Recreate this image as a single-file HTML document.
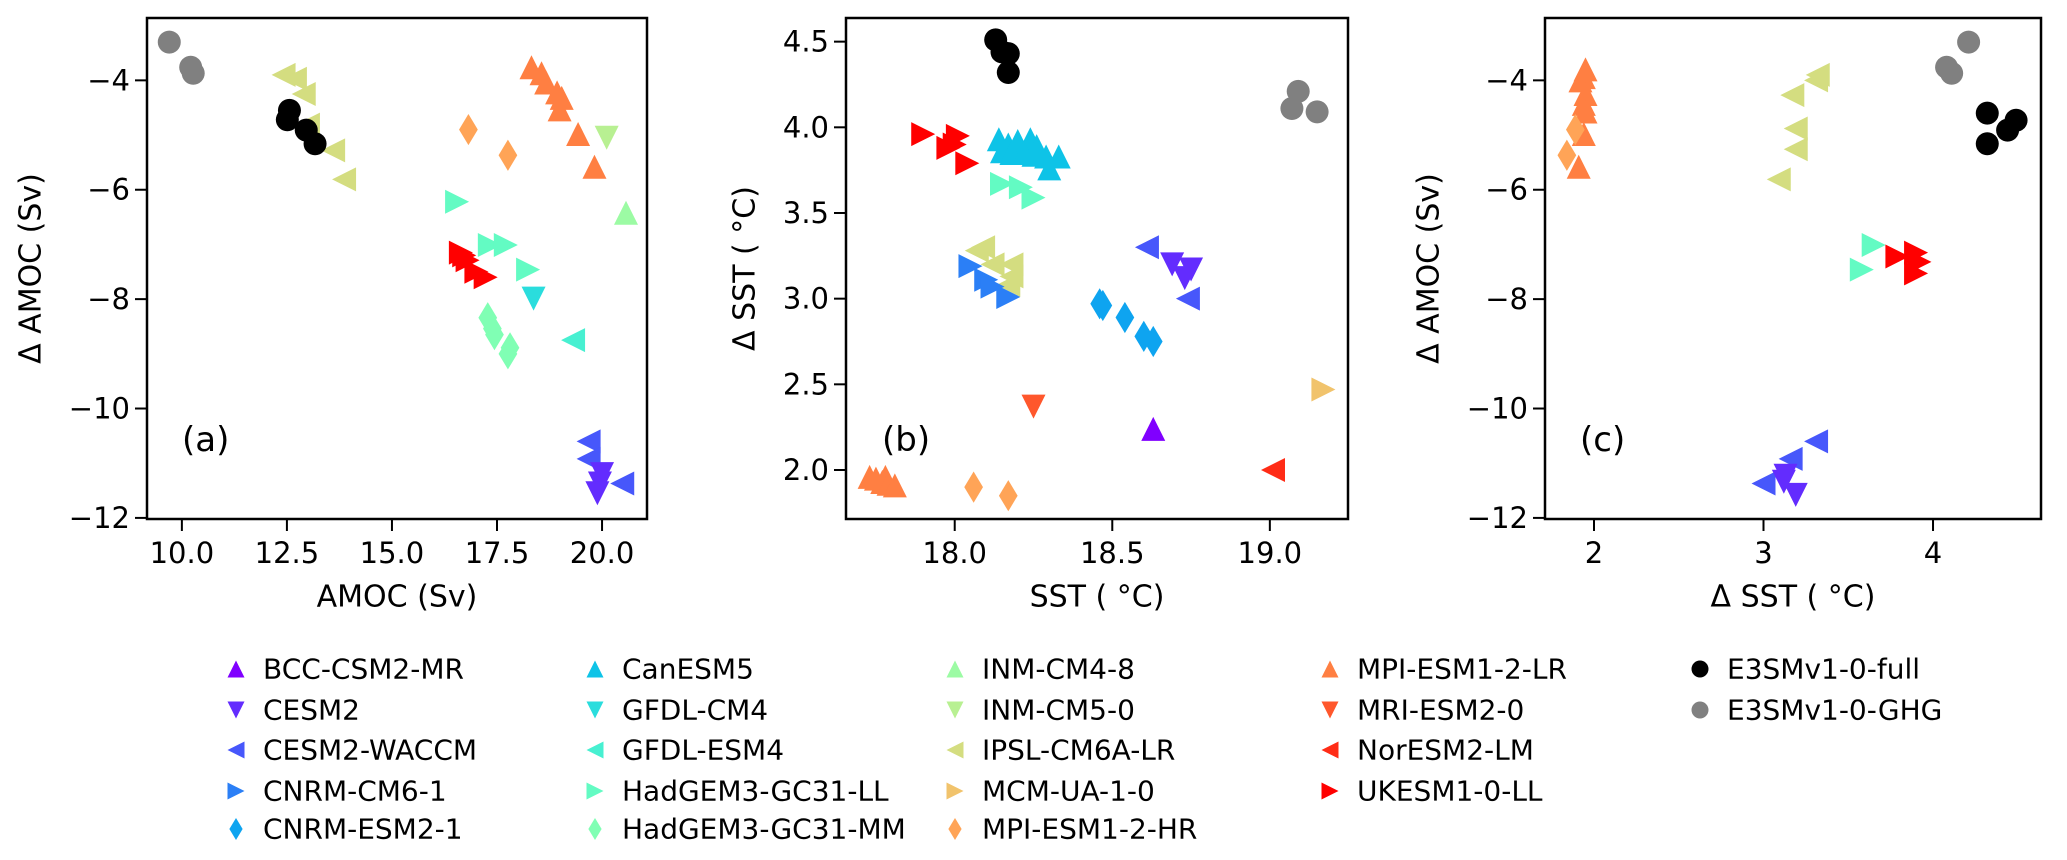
<!DOCTYPE html>
<html><head><meta charset="utf-8"><style>
html,body{margin:0;padding:0;background:#fff;}
svg{display:block;font-family:"DejaVu Sans","Liberation Sans",sans-serif;}
</style></head><body>
<svg id="fig" width="2067" height="860" viewBox="0 0 2067 860" xmlns="http://www.w3.org/2000/svg"></svg>
<script>
const models = ["BCC-CSM2-MR","CESM2","CESM2-WACCM","CNRM-CM6-1","CNRM-ESM2-1","CanESM5","GFDL-CM4","GFDL-ESM4","HadGEM3-GC31-LL","HadGEM3-GC31-MM","INM-CM4-8","INM-CM5-0","IPSL-CM6A-LR","MCM-UA-1-0","MPI-ESM1-2-HR","MPI-ESM1-2-LR","MRI-ESM2-0","NorESM2-LM","UKESM1-0-LL"];
const markerCycle = ["^","v","<",">","d"];
// Panel (a): AMOC vs dAMOC  [model, xs, ys]
const panelA = [
 ["E3SMv1-0-GHG",[9.70,10.21,10.27],[-3.30,-3.76,-3.87]],
 ["IPSL-CM6A-LR",[12.42,12.69,12.90,13.0,13.6,13.86],[-3.90,-3.97,-4.25,-4.81,-5.28,-5.81]],
 ["E3SMv1-0-full",[12.56,12.51,12.96,13.17],[-4.55,-4.72,-4.91,-5.16]],
 ["MPI-ESM1-2-HR",[16.82,17.76],[-4.9,-5.37]],
 ["MPI-ESM1-2-LR",[18.32,18.56,18.67,18.93,19.04,18.99,19.43,19.82],[-3.76,-3.87,-4.04,-4.22,-4.32,-4.53,-4.98,-5.58]],
 ["INM-CM5-0",[20.11],[-5.05]],
 ["INM-CM4-8",[20.57],[-6.42]],
 ["HadGEM3-GC31-LL",[16.55,17.33,17.71,18.24],[-6.22,-7.01,-7.01,-7.46]],
 ["UKESM1-0-LL",[16.64,16.72,16.80,17.01,17.23],[-7.15,-7.20,-7.29,-7.50,-7.60]],
 ["GFDL-CM4",[18.37],[-7.99]],
 ["GFDL-ESM4",[19.31],[-8.75]],
 ["HadGEM3-GC31-MM",[17.28,17.39,17.44,17.81,17.76],[-8.34,-8.54,-8.65,-8.89,-9.0]],
 ["CESM2-WACCM",[19.68,19.68,20.48],[-10.6,-10.92,-11.37]],
 ["CESM2",[20.0,19.95,19.89],[-11.2,-11.37,-11.55]]
];
// Panel (b): SST vs dSST
const panelB = [
 ["E3SMv1-0-full",[18.13,18.15,18.17,18.17],[4.51,4.44,4.43,4.32]],
 ["E3SMv1-0-GHG",[19.09,19.07,19.15],[4.21,4.11,4.09]],
 ["UKESM1-0-LL",[17.90,18.01,17.98,18.00,18.04],[3.96,3.95,3.88,3.90,3.79]],
 ["CanESM5",[18.14,18.17,18.20,18.24,18.26,18.15,18.18,18.22,18.25,18.29,18.30,18.33],[3.93,3.90,3.92,3.93,3.89,3.86,3.85,3.85,3.84,3.83,3.76,3.83]],
 ["HadGEM3-GC31-LL",[18.15,18.21,18.25],[3.67,3.65,3.59]],
 ["IPSL-CM6A-LR",[18.09,18.07,18.12,18.18,18.18,18.17],[3.30,3.28,3.20,3.20,3.13,3.08]],
 ["CNRM-CM6-1",[18.05,18.10,18.12,18.17],[3.19,3.11,3.07,3.01]],
 ["CNRM-ESM2-1",[18.46,18.47,18.54,18.60,18.63],[2.97,2.96,2.89,2.78,2.75]],
 ["CESM2-WACCM",[18.61,18.74],[3.30,3.00]],
 ["CESM2",[18.69,18.73,18.75],[3.20,3.12,3.17]],
 ["MCM-UA-1-0",[19.17],[2.47]],
 ["MRI-ESM2-0",[18.25],[2.37]],
 ["BCC-CSM2-MR",[18.63],[2.24]],
 ["NorESM2-LM",[19.01],[2.0]],
 ["MPI-ESM1-2-LR",[17.73,17.75,17.78,17.77,17.79,17.81],[1.96,1.95,1.96,1.93,1.92,1.91]],
 ["MPI-ESM1-2-HR",[18.06,18.17],[1.90,1.85]]
];
// Panel (c): dSST vs dAMOC
const panelC = [
 ["MPI-ESM1-2-LR",[1.95,1.94,1.92,1.95,1.94,1.95,1.94,1.91],[-3.80,-3.94,-4.0,-4.25,-4.43,-4.57,-4.98,-5.58]],
 ["MPI-ESM1-2-HR",[1.89,1.84],[-4.9,-5.37]],
 ["IPSL-CM6A-LR",[3.32,3.31,3.17,3.19,3.19,3.09],[-3.90,-4.0,-4.27,-4.88,-5.26,-5.81]],
 ["E3SMv1-0-GHG",[4.21,4.08,4.11],[-3.30,-3.76,-3.87]],
 ["E3SMv1-0-full",[4.32,4.49,4.44,4.32],[-4.60,-4.73,-4.91,-5.16]],
 ["HadGEM3-GC31-LL",[3.65,3.58],[-7.01,-7.46]],
 ["UKESM1-0-LL",[3.79,3.90,3.92,3.90],[-7.22,-7.15,-7.32,-7.53]],
 ["CESM2-WACCM",[3.31,3.16,3.0],[-10.6,-10.92,-11.37]],
 ["CESM2",[3.13,3.12,3.19],[-11.23,-11.34,-11.58]]
];
const ticksA_x = [10.0,12.5,15.0,17.5,20.0];
const ticksA_y = [-4,-6,-8,-10,-12];
const ticksB_x = [18.0,18.5,19.0];
const ticksB_y = [4.5,4.0,3.5,3.0,2.5,2.0];
const ticksC_x = [2,3,4];
const ticksC_y = [-4,-6,-8,-10,-12];

const NS="http://www.w3.org/2000/svg";
const svg=document.getElementById('fig');
function mk(tag,attrs,parent){const e=document.createElementNS(NS,tag);for(const k in attrs)e.setAttribute(k,attrs[k]);(parent||svg).appendChild(e);return e;}
function rainbow(i){const x=i/18;const c=v=>Math.round(255*Math.max(0,Math.min(1,v)));return `rgb(${c(Math.abs(2*x-0.5))},${c(Math.sin(Math.PI*x))},${c(Math.cos(Math.PI*x/2))})`;}
function styleOf(name){
  if(name==="E3SMv1-0-full")return {m:"o",c:"#000"};
  if(name==="E3SMv1-0-GHG")return {m:"o",c:"#808080"};
  const i=models.indexOf(name);return {m:markerCycle[i%5],c:rainbow(i)};
}
function marker(g,m,x,y,r,col){
  let e;
  if(m==="o"){e=mk('circle',{cx:x,cy:y,r:r,fill:col},g);}
  else{let p;
    if(m==="^")p=[[0,-r],[-r,r],[r,r]];
    else if(m==="v")p=[[0,r],[-r,-r],[r,-r]];
    else if(m==="<")p=[[-r,0],[r,-r],[r,r]];
    else if(m===">")p=[[r,0],[-r,-r],[-r,r]];
    else p=[[0,-r*1.3],[r*0.78,0],[0,r*1.3],[-r*0.78,0]];
    e=mk('polygon',{points:p.map(q=>(x+q[0])+","+(y+q[1])).join(" "),fill:col},g);}
  return e;
}
function panel(cfg){
  const g=mk('g',{});
  
  
  const sx=v=>cfg.L+(v-cfg.x0)/(cfg.x1-cfg.x0)*(cfg.R-cfg.L);
  const sy=v=>cfg.B-(v-cfg.y0)/(cfg.y1-cfg.y0)*(cfg.B-cfg.T);
  const pts=mk('g',{},g);
  
  
  cfg.data.forEach(s=>{const st=styleOf(s[0]);
    s[1].forEach((xv,k)=>{const e=marker(pts,st.m,sx(xv),sy(s[2][k]),st.m==="o"?11.5:12,st.c);
      
      });});
  const box=mk('rect',{x:cfg.L,y:cfg.T,width:cfg.R-cfg.L,height:cfg.B-cfg.T,fill:'none',stroke:'#000','stroke-width':2.5},g);
  
  
  cfg.tx.forEach(v=>{const x=sx(v);mk('line',{x1:x,x2:x,y1:cfg.B,y2:cfg.B+12,stroke:'#000','stroke-width':2},g);
    const t=mk('text',{x:x,y:cfg.B+34,'text-anchor':'middle','dominant-baseline':'central','font-size':29},g);t.textContent=cfg.fx(v);
    
    });
  cfg.ty.forEach(v=>{const y=sy(v);mk('line',{x1:cfg.L-12,x2:cfg.L,y1:y,y2:y,stroke:'#000','stroke-width':2},g);
    const t=mk('text',{x:cfg.L-17,y:y,'text-anchor':'end','dominant-baseline':'central','font-size':29},g);t.textContent=cfg.fy(v);
    
    });
  const xl=mk('text',{x:(cfg.L+cfg.R)/2,y:597,'text-anchor':'middle','dominant-baseline':'central','font-size':30},g);xl.textContent=cfg.xlab;
  
  
  const yl=mk('text',{x:0,y:0,'text-anchor':'middle','dominant-baseline':'central','font-size':30,transform:`translate(${cfg.ylx},${(cfg.T+cfg.B)/2}) rotate(-90)`},g);yl.textContent=cfg.ylab;
  
  
  const pl=mk('text',{x:cfg.L+cfg.plx,y:440,'dominant-baseline':'central','font-size':34},g);pl.textContent=cfg.pl;
  
  
}
const m="\u2212";
const fmtInt=v=>(v<0?m:"")+Math.abs(v);
const fmt1=v=>(v<0?m:"")+Math.abs(v).toFixed(1);
panel({name:'panel-a',L:147,R:647,T:18,B:519,x0:9.17,x1:21.07,y0:-12.02,y1:-2.86,data:panelA,tx:ticksA_x,ty:ticksA_y,fx:fmt1,fy:fmtInt,xlab:'AMOC (Sv)',ylab:'\u0394 AMOC (Sv)',ylx:31,pl:'(a)',plx:35});
panel({name:'panel-b',L:846,R:1348,T:18,B:519,x0:17.655,x1:19.248,y0:1.714,y1:4.638,data:panelB,tx:ticksB_x,ty:ticksB_y,fx:fmt1,fy:fmt1,xlab:'SST ( \u00B0C)',ylab:'\u0394 SST ( \u00B0C)',ylx:745,pl:'(b)',plx:36});
panel({name:'panel-c',L:1545,R:2041,T:18,B:519,x0:1.711,x1:4.637,y0:-12.02,y1:-2.86,data:panelC,tx:ticksC_x,ty:ticksC_y,fx:fmtInt,fy:fmtInt,xlab:'\u0394 SST ( \u00B0C)',ylab:'\u0394 AMOC (Sv)',ylx:1429,pl:'(c)',plx:35});

// legend
const legendNames = models.concat(["E3SMv1-0-full","E3SMv1-0-GHG"]);
const legCols=[236,595,955,1330,1700];
const legRows=[669,710,750,791,829];
const lg=mk('g',{});


legendNames.forEach((n,i)=>{
  let col,row;
  if(i<15){col=Math.floor(i/5);row=i%5;}
  else if(i<19){col=3;row=i-15;}
  else {col=4;row=i-19;}
  const st=styleOf(n);
  const e=mk('g',{},lg);
  
  
  marker(e,st.m,legCols[col],legRows[row],8.5,st.c);
  const t=mk('text',{x:legCols[col]+27,y:legRows[row],'dominant-baseline':'central','font-size':28},e);t.textContent=n;
});
</script>
</body></html>
